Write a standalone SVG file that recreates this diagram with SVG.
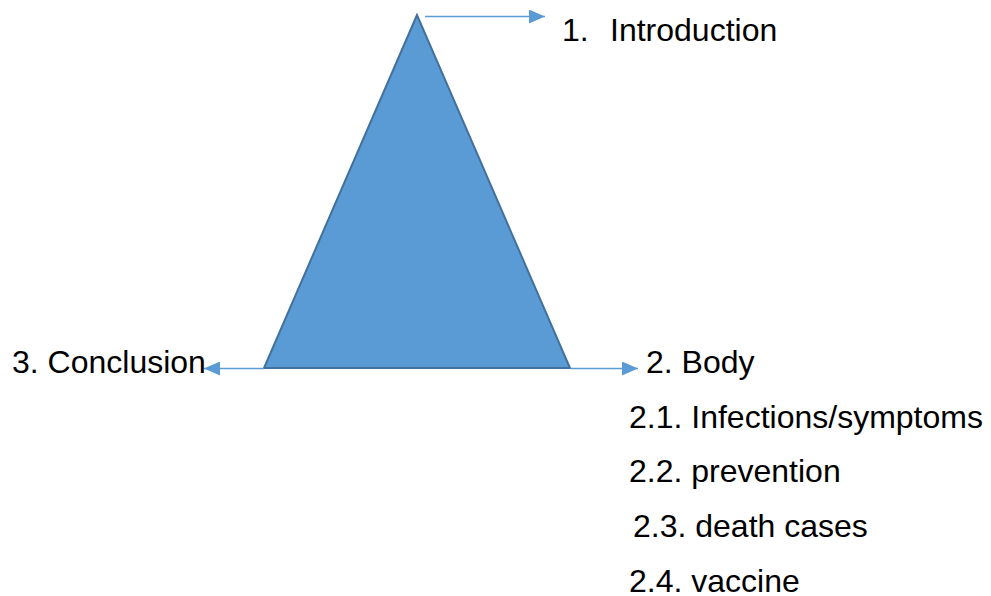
<svg xmlns="http://www.w3.org/2000/svg" width="991" height="596" viewBox="0 0 991 596">
  <style>
    .label { font-family: "Liberation Sans", Arial, sans-serif; font-size: 32px; fill: #000000; }
    .conn { stroke: #5B9BD5; stroke-width: 1.5; fill: none; }
  </style>
  <defs>
    <marker id="arrow" markerWidth="16" markerHeight="14" refX="16" refY="7" orient="auto" markerUnits="userSpaceOnUse">
      <path d="M0,0 L16,7 L0,14 Z" fill="#5B9BD5"/>
    </marker>
  </defs>
  <rect width="991" height="596" fill="#FFFFFF"/>

  <!-- central triangle -->
  <g id="triangle">
    <polygon points="417,15 264,368 570,368" fill="#5B9BD5" stroke="#41719C" stroke-width="2" stroke-linejoin="miter"/>
  </g>

  <!-- arrows from the triangle to the section labels -->
  <g id="connectors">
    <line class="conn" x1="425" y1="16.5" x2="545" y2="16.5" marker-end="url(#arrow)"/>
    <line class="conn" x1="264" y1="368.5" x2="204" y2="368.5" marker-end="url(#arrow)"/>
    <line class="conn" x1="570" y1="368.5" x2="638" y2="368.5" marker-end="url(#arrow)"/>
  </g>

  <g id="introduction">
    <text class="label" x="562" y="41">1.</text>
    <text class="label" x="610" y="41">Introduction</text>
  </g>

  <g id="conclusion">
    <text class="label" x="12" y="373">3. Conclusion</text>
  </g>

  <g id="body">
    <text class="label" x="646" y="373">2. Body</text>
    <text class="label" x="629" y="428">2.1. Infections/symptoms</text>
    <text class="label" x="629" y="482">2.2. prevention</text>
    <text class="label" x="633" y="537">2.3. death cases</text>
    <text class="label" x="629" y="592">2.4. vaccine</text>
  </g>
</svg>
